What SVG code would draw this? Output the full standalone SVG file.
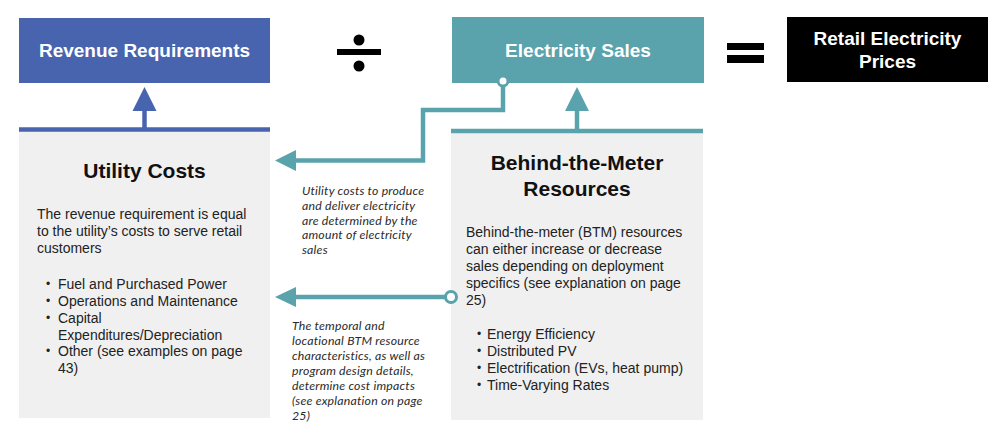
<svg xmlns="http://www.w3.org/2000/svg" width="1000" height="432" viewBox="0 0 1000 432">
<defs>
<style>
.hdr{font-family:"Liberation Sans",Arial,sans-serif;font-weight:bold;fill:#fff;font-size:19px;text-anchor:middle}
.ttl{font-family:"Liberation Sans",Arial,sans-serif;font-weight:bold;fill:#111;font-size:21px;text-anchor:middle}
.body{font-family:"Liberation Sans",Arial,sans-serif;fill:#222;font-size:14px}
.bul{font-family:"Liberation Sans",Arial,sans-serif;fill:#222;font-size:12px}
.note{font-family:Lato,"Open Sans",sans-serif;font-style:italic;fill:#2a2a2a;font-size:12.3px;letter-spacing:0.2px}
.panel{fill:#f0f0f0}
.tl{stroke:#5aa2ac;stroke-width:4.5;fill:none}
.bl{stroke:#4864ae;stroke-width:4.5;fill:none}
.dot{fill:#fff;stroke:#5aa2ac;stroke-width:3}
</style>
</defs>
<rect width="1000" height="432" fill="#fff"/>

<g id="revenue-requirements">
<rect x="19" y="18" width="251" height="65" fill="#4864ae"/>
<text class="hdr" x="144.5" y="57">Revenue Requirements</text>
</g>

<g id="divide">
<rect x="337" y="49" width="44" height="6" fill="#000"/>
<circle cx="359" cy="40" r="5.5" fill="#000"/>
<circle cx="359" cy="66" r="5.5" fill="#000"/>
</g>

<g id="electricity-sales">
<rect x="452" y="17" width="252" height="66" fill="#5aa2ac"/>
<text class="hdr" x="578" y="57">Electricity Sales</text>
</g>

<g id="equals">
<rect x="727" y="43" width="37" height="7" fill="#000"/>
<rect x="727" y="55" width="37" height="8" fill="#000"/>
</g>

<g id="retail-electricity-prices">
<rect x="787" y="17" width="201" height="65" fill="#000"/>
<text class="hdr" x="887.5" y="45">Retail Electricity</text>
<text class="hdr" x="887.5" y="68">Prices</text>
</g>

<g id="utility-costs">
<rect class="panel" x="19" y="131" width="251" height="287"/>
<line class="bl" x1="19" y1="129.5" x2="270" y2="129.5"/>
<text class="ttl" x="144.5" y="178">Utility Costs</text>
<text class="body" x="37" y="219">The revenue requirement is equal</text>
<text class="body" x="37" y="236">to the utility’s costs to serve retail</text>
<text class="body" x="37" y="253">customers</text>
<text class="bul" x="46" y="288">•</text><text class="body" x="58" y="289">Fuel and Purchased Power</text>
<text class="bul" x="46" y="305">•</text><text class="body" x="58" y="306">Operations and Maintenance</text>
<text class="bul" x="46" y="322">•</text><text class="body" x="58" y="323">Capital</text>
<text class="body" x="58" y="340">Expenditures/Depreciation</text>
<text class="bul" x="46" y="355">•</text><text class="body" x="58" y="356">Other (see examples on page</text>
<text class="body" x="58" y="373">43)</text>
</g>

<g id="behind-the-meter-resources">
<rect class="panel" x="451" y="133" width="252" height="287"/>
<line class="tl" x1="451" y1="131" x2="703" y2="131"/>
<text class="ttl" x="577" y="170">Behind-the-Meter</text>
<text class="ttl" x="577" y="196">Resources</text>
<text class="body" x="466" y="237">Behind-the-meter (BTM) resources</text>
<text class="body" x="466" y="254">can either increase or decrease</text>
<text class="body" x="466" y="271">sales depending on deployment</text>
<text class="body" x="466" y="288">specifics (see explanation on page</text>
<text class="body" x="466" y="305">25)</text>
<text class="bul" x="477" y="338">•</text><text class="body" x="487" y="339">Energy Efficiency</text>
<text class="bul" x="477" y="355">•</text><text class="body" x="487" y="356">Distributed PV</text>
<text class="bul" x="477" y="372">•</text><text class="body" x="487" y="373">Electrification (EVs, heat pump)</text>
<text class="bul" x="477" y="389">•</text><text class="body" x="487" y="390">Time-Varying Rates</text>
</g>

<g id="connectors">
<line class="bl" x1="144.5" y1="110" x2="144.5" y2="129"/>
<polygon points="144.5,87 132.5,111 156.5,111" fill="#4864ae"/>
<line class="tl" x1="577" y1="110" x2="577" y2="131"/>
<polygon points="577,87 565,111 589,111" fill="#5aa2ac"/>
<path class="tl" d="M503,86 V110 H423 V160.5 H294"/>
<polygon points="275,160.5 296,150 296,171" fill="#5aa2ac"/>
<circle class="dot" cx="503" cy="81" r="5"/>
<line class="tl" x1="294" y1="297" x2="446" y2="297"/>
<polygon points="275,297 296,287 296,307" fill="#5aa2ac"/>
<circle class="dot" cx="451" cy="297" r="5.5"/>
</g>

<g id="note-sales">
<text class="note" x="302" y="195">Utility costs to produce</text>
<text class="note" x="302" y="209.8">and deliver electricity</text>
<text class="note" x="302" y="224.6">are determined by the</text>
<text class="note" x="302" y="239.4">amount of electricity</text>
<text class="note" x="302" y="254.2">sales</text>
</g>

<g id="note-btm">
<text class="note" x="292" y="330">The temporal and</text>
<text class="note" x="292" y="345">locational BTM resource</text>
<text class="note" x="292" y="360">characteristics, as well as</text>
<text class="note" x="292" y="375">program design details,</text>
<text class="note" x="292" y="390">determine cost impacts</text>
<text class="note" x="292" y="405">(see explanation on page</text>
<text class="note" x="292" y="420">25)</text>
</g>
</svg>
